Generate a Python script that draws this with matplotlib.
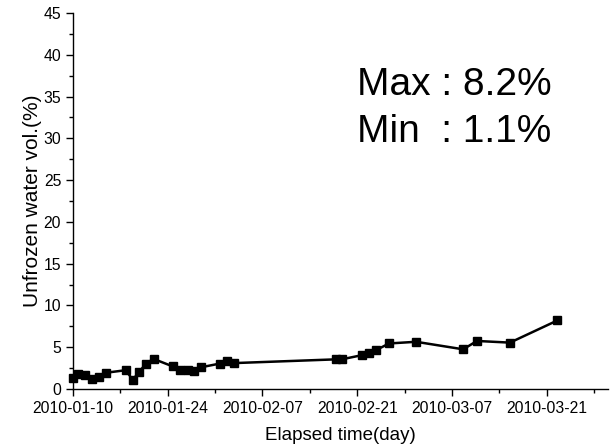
import matplotlib
matplotlib.use("Agg")
import matplotlib.pyplot as plt
import matplotlib.dates as mdates
from matplotlib.ticker import MultipleLocator, FixedLocator
import pandas as pd

plt.rcParams['font.family'] = ['Liberation Sans', 'DejaVu Sans']

# Sampling dates and measured unfrozen water content (%)
dates = [
    "2010-01-10 00:00", "2010-01-10 19:00", "2010-01-11 19:00", "2010-01-12 19:00",
    "2010-01-13 19:00", "2010-01-14 22:00", "2010-01-17 19:00", "2010-01-18 20:00",
    "2010-01-19 19:00", "2010-01-20 19:00", "2010-01-21 22:00", "2010-01-24 18:00",
    "2010-01-25 20:00", "2010-01-27 00:00", "2010-01-27 22:00", "2010-01-28 22:00",
    "2010-01-31 18:00", "2010-02-01 19:00", "2010-02-02 19:00", "2010-02-17 22:00",
    "2010-02-18 17:00", "2010-02-21 17:00", "2010-02-22 19:00", "2010-02-23 19:00",
    "2010-02-25 17:00", "2010-03-01 17:00", "2010-03-08 16:00", "2010-03-10 17:00",
    "2010-03-15 14:00", "2010-03-22 14:00",
]
water = [
    1.3, 1.85, 1.7, 1.25, 1.4, 1.95, 2.25, 1.1, 2.05, 3.05, 3.6, 2.7,
    2.3, 2.3, 2.2, 2.6, 3.05, 3.3, 3.1, 3.55, 3.55, 4.05, 4.3, 4.65,
    5.45, 5.65, 4.75, 5.75, 5.55, 8.2,
]

x_start, x_end = "2010-01-10", "2010-03-30"
max_text = "Max : 8.2%"
min_text = "Min  : 1.1%"

t = pd.to_datetime(dates, format="%Y-%m-%d %H:%M")

fig = plt.figure(figsize=(6.11, 4.47), dpi=100)
ax = fig.add_axes([73 / 611, (447 - 389) / 447, (607.5 - 73) / 611, (389 - 13) / 447])

ax.plot(t, water, color="black", linewidth=1.8, marker="s", markersize=5.5,
        markerfacecolor="black", markeredgecolor="black", clip_on=False, zorder=3)

ax.set_xlim(pd.Timestamp(x_start), pd.Timestamp(x_end))
ax.set_ylim(0, 45)

ax.xaxis.set_major_locator(FixedLocator(
    mdates.date2num(pd.date_range("2010-01-10", "2010-03-21", freq="14D"))))
ax.xaxis.set_minor_locator(FixedLocator(
    mdates.date2num(pd.date_range("2010-01-17", "2010-03-28", freq="14D"))))
ax.xaxis.set_major_formatter(mdates.DateFormatter("%Y-%m-%d"))

ax.yaxis.set_major_locator(MultipleLocator(5))
ax.yaxis.set_minor_locator(MultipleLocator(2.5))

for side in ("top", "right"):
    ax.spines[side].set_visible(False)
for side in ("left", "bottom"):
    ax.spines[side].set_linewidth(1.0)

ax.tick_params(axis="both", which="major", direction="out", length=5, width=1.0,
               labelsize=11.3, pad=3.5)
ax.tick_params(axis="both", which="minor", direction="out", length=3, width=1.0)

ax.set_xlabel("Elapsed time(day)", fontsize=13.5, labelpad=8)
ax.set_ylabel("Unfrozen water vol.(%)", fontsize=15, labelpad=1)

ax.text(0.531, 0.782, max_text, transform=ax.transAxes, fontsize=28, va="baseline", ha="left")
ax.text(0.531, 0.658, min_text, transform=ax.transAxes, fontsize=28, va="baseline", ha="left")

fig.savefig("out.png", dpi=100)
